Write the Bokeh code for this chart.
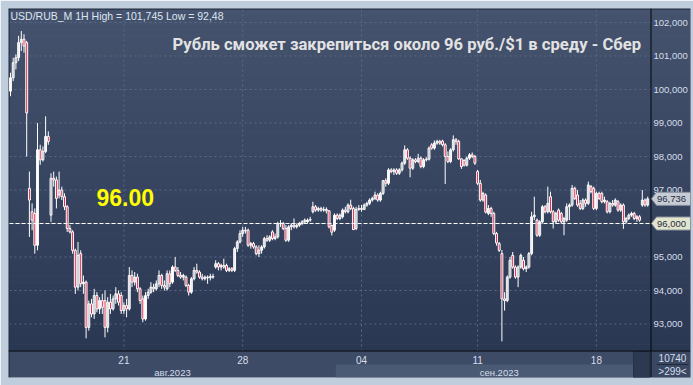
from bokeh.plotting import figure
from bokeh.models import Range1d, Label, ColumnDataSource
from bokeh.core.properties import value
from bokeh.embed import file_html
from bokeh.resources import INLINE

# ---- data: hourly USD/RUB candles ----
opens = [99.95,100.35,100.8,100.95,101.4,101.5,101.4,97.05,96.35,96.3,95.35,98.2,97.9,98.15,98.6,96.25,97.35,97.3,96.85,97.0,
         96.8,96.5,95.85,95.75,95.2,94.1,95.1,94.2,94.25,92.9,93.6,93.3,93.85,93.45,93.7,93.7,92.9,93.65,93.45,93.75,
         93.9,93.85,93.4,93.55,93.45,94.45,94.25,94.4,94.05,93.75,93.15,93.85,93.95,94.1,94.05,94.2,94.45,94.15,94.05,94.5,
         94.25,94.7,94.6,94.45,94.4,94.4,94.15,93.95,94.35,94.6,94.55,94.4,94.35,94.4,94.38,94.42,94.7,94.8,94.7,94.75,
         94.75,94.6,94.65,94.6,95.25,95.45,95.7,95.8,95.8,95.35,95.4,95.3,95.1,95.2,95.3,95.55,95.5,95.75,95.55,95.6,
         96.0,96.0,95.85,95.5,95.9,95.95,95.9,95.95,96.0,96.05,96.05,96.1,96.35,96.5,96.4,96.45,96.4,96.42,96.38,95.94,
         95.8,96.25,96.15,96.2,96.4,96.35,96.55,96.45,95.85,96.42,96.45,96.42,96.55,96.6,96.7,96.75,96.85,96.7,96.9,97.28,
         97.2,97.6,97.55,97.6,97.5,97.6,97.8,98.2,97.95,97.65,97.9,97.85,97.95,97.7,97.9,97.92,98.35,98.25,98.4,98.45,
         98.46,98.35,98.0,97.85,98.2,98.5,98.45,97.93,97.88,97.74,97.95,98.05,98.0,97.55,97.2,96.7,96.85,96.3,96.45,96.3,
         95.7,95.4,95.1,93.75,93.7,94.4,95.05,94.7,94.4,94.7,94.9,94.65,94.7,95.1,96.2,96.1,95.65,96.05,96.5,96.35,
         96.8,96.35,96.05,96.4,96.3,96.05,96.1,96.5,96.55,97.05,96.85,96.6,96.45,96.7,96.6,97.1,97.05,96.45,96.9,96.9,
         96.65,96.65,96.35,96.6,96.55,96.65,96.4,96.55,96.05,96.15,96.25,96.3,96.15,96.2,96.55,96.7,96.55]
highs = [100.5,100.95,101.05,101.6,101.745,101.65,101.45,97.55,96.6,96.45,99.0,98.35,98.3,99.2,98.75,97.5,97.55,97.4,97.55,97.1,
         96.9,96.55,95.95,95.8,95.25,95.45,95.2,94.45,94.3,93.7,93.75,94.05,93.95,93.8,93.9,94.0,93.8,93.9,93.85,94.1,
         94.0,93.95,93.65,93.75,94.7,94.6,94.55,94.5,94.1,93.85,93.95,94.05,94.25,94.2,94.3,94.6,94.5,94.3,94.6,94.6,
         94.75,95.0,94.7,94.55,94.5,94.45,94.2,94.4,94.7,94.8,94.6,94.5,94.45,94.45,94.5,94.5,94.9,94.85,94.8,94.95,
         94.8,94.7,94.7,95.3,95.5,95.8,95.9,95.9,95.85,95.45,95.45,95.35,95.35,95.35,95.6,95.65,95.65,95.8,95.7,96.05,
         96.1,96.05,95.95,95.95,96.0,96.15,96.0,96.05,96.1,96.15,96.15,96.2,96.65,96.55,96.5,96.5,96.5,96.48,96.4,95.97,
         96.3,96.3,96.3,96.45,96.5,96.6,96.71,96.5,96.5,96.55,96.55,96.6,96.65,96.75,96.8,96.95,96.9,96.95,97.3,97.35,
         97.65,97.65,97.65,97.65,97.65,97.85,98.33,98.25,98.0,97.95,97.95,98.08,98.0,97.95,97.98,98.3,98.4,98.48,98.5,98.5,
         98.5,98.4,98.15,98.25,98.63,98.55,98.5,97.95,97.92,98.0,98.1,98.12,98.05,97.6,97.3,96.95,96.9,96.55,96.5,96.35,
         95.75,95.45,95.21,93.95,94.45,95.0,95.15,94.75,94.75,95.1,95.0,94.75,95.15,96.35,96.8,96.15,96.1,96.55,96.55,97.1,
         96.95,96.4,96.35,96.45,96.35,96.2,96.6,96.6,97.15,97.1,97.0,96.7,96.75,96.75,97.25,97.15,97.1,96.95,96.95,96.95,
         96.8,96.7,96.65,96.7,96.75,96.7,96.6,96.6,96.2,96.3,96.35,96.35,96.25,96.25,97.0,96.75,96.8]
lows = [99.8,100.25,100.6,100.85,101.15,101.1,98.0,95.6,95.8,95.1,95.2,97.75,97.85,98.1,98.35,96.05,97.1,96.45,96.75,96.7,
        96.4,95.75,95.7,95.1,93.9,94.0,94.1,93.9,92.57,92.8,93.2,93.15,93.35,93.3,93.3,92.6,92.75,93.3,93.4,93.6,
        93.55,93.3,93.3,93.2,93.4,94.1,94.15,93.95,93.6,93.05,93.1,93.75,93.9,93.95,94.0,94.1,94.05,94.0,94.0,94.1,
        94.2,94.55,94.4,94.35,94.3,94.1,93.85,93.9,94.3,94.5,94.35,94.3,94.3,94.2,94.3,94.35,94.65,94.6,94.6,94.65,
        94.55,94.55,94.55,94.55,95.15,95.4,95.6,95.7,95.3,95.25,95.25,95.05,95.0,95.1,95.25,95.45,95.45,95.5,95.5,95.55,
        95.9,95.8,95.45,95.45,95.8,95.85,95.85,95.9,95.95,96.0,96.0,96.05,96.3,96.35,96.35,96.35,96.35,96.3,95.85,95.64,
        95.75,96.1,96.1,96.15,96.3,96.3,96.4,95.8,95.8,96.38,96.35,96.4,96.5,96.55,96.65,96.7,96.65,96.65,96.85,97.1,
        97.15,97.5,97.45,97.45,97.45,97.55,97.75,97.9,97.38,97.6,97.8,97.8,97.65,97.65,97.85,97.88,98.2,98.2,98.35,98.35,
        98.3,97.18,97.8,97.8,98.15,98.35,97.9,97.63,97.7,97.7,97.9,97.95,97.75,97.15,96.65,96.65,96.3,96.25,96.2,95.65,
        95.34,95.15,92.48,93.4,93.65,94.35,94.65,94.35,94.1,94.65,94.6,94.55,94.65,95.05,96.1,95.6,95.6,96.0,96.3,96.3,
        96.3,95.85,96.0,96.05,96.0,95.65,96.05,96.1,96.5,96.7,96.5,96.4,96.4,96.5,96.55,96.9,96.4,96.4,96.7,96.6,
        96.6,96.3,96.3,96.5,96.5,96.35,96.35,95.84,96.0,96.1,96.2,96.1,96.05,96.05,96.5,96.5,96.5]
closes = [100.35,100.8,100.95,101.4,101.5,101.3,99.3,96.7,96.1,95.35,98.2,97.9,98.15,98.6,98.45,97.35,97.3,96.75,97.0,96.8,
          96.5,95.85,95.75,95.2,94.1,95.05,94.2,94.25,92.9,93.6,93.3,93.85,93.45,93.7,93.5,92.9,93.65,93.45,93.75,93.9,
          93.65,93.4,93.55,93.45,94.45,94.25,94.4,94.05,93.7,93.15,93.85,93.95,94.1,94.05,94.2,94.45,94.15,94.1,94.5,94.2,
          94.7,94.6,94.45,94.4,94.45,94.15,93.95,94.35,94.6,94.55,94.4,94.35,94.4,94.38,94.42,94.4,94.8,94.7,94.75,94.7,
          94.6,94.65,94.6,95.25,95.45,95.7,95.8,95.78,95.35,95.4,95.3,95.1,95.2,95.3,95.55,95.5,95.6,95.55,95.6,96.0,
          96.0,95.85,95.5,95.9,95.95,95.9,95.95,96.0,96.05,96.1,96.1,96.12,96.5,96.4,96.45,96.4,96.42,96.38,95.9,95.74,
          96.25,96.15,96.25,96.4,96.35,96.55,96.45,95.82,96.42,96.45,96.42,96.55,96.6,96.7,96.75,96.85,96.7,96.9,97.28,97.2,
          97.6,97.55,97.6,97.5,97.6,97.8,98.2,97.95,97.65,97.9,97.85,97.95,97.7,97.9,97.92,98.25,98.25,98.4,98.45,98.4,
          98.35,98.0,97.85,98.2,98.5,98.45,97.93,97.7,97.74,97.95,98.05,98.0,97.8,97.2,96.7,96.9,96.34,96.45,96.3,95.7,
          95.42,95.2,93.75,93.7,94.4,94.9,94.7,94.4,94.7,95.05,94.65,94.7,95.1,96.2,96.25,95.65,96.05,96.5,96.35,96.6,
          96.35,96.05,96.3,96.1,96.05,96.15,96.5,96.55,97.05,96.75,96.55,96.45,96.7,96.6,97.15,96.95,96.45,96.9,96.75,96.65,
          96.7,96.35,96.6,96.55,96.7,96.4,96.55,96.05,96.15,96.25,96.3,96.15,96.2,96.1,96.7,96.55,96.736]

day_ticks = [42, 86, 130, 173, 217]
day_labels = ["21", "28", "04", "11", "18"]
month_ticks = [60, 181]
month_labels = ["авг.2023", "сен.2023"]
sep_first = 121
price_ticks = [93, 94, 95, 96, 97, 98, 99, 100, 101, 102]
price_labels = ["93,000", "94,000", "95,000", "96,000", "97,000", "98,000", "99,000", "100,000", "101,000", "102,000"]
level = 96.0
level_label = "96,000"
level_big = "96.00"
last_label = "96,736"
title_text = "USD/RUB_M 1H High = 101,745 Low = 92,48"
headline = "Рубль сможет закрепиться около 96 руб./$1 в среду - Сбер"
volume_text = "10740"
count_text = ">299<"

N = len(closes)
assert len(opens) == len(highs) == len(lows) == N

FONT = "Liberation Sans"
TXT = "#d6deea"

# layout calibration: page pixel -> data coordinate (candle pitch 2.7px, 33.5px per rouble)
def xpx(px):
    return (px - 10) / 2.7

def ypx(py):
    return 102 - (py - 22) / 33.5

p = figure(width=693, height=385, x_range=Range1d(xpx(8), xpx(690)), y_range=Range1d(ypx(377), ypx(8)),
           output_backend="svg", toolbar_location=None, x_axis_type=None, y_axis_type=None,
           min_border_left=8, min_border_right=3, min_border_top=8, min_border_bottom=8,
           background_fill_color="#3d4b66", border_fill_color="#bfcddc", outline_line_color=None)
p.grid.visible = False

# background gradient of plot + price-scale area (decoration)
nb = 60
yb, yt = ypx(350), ypx(9)
top_c, bot_c = (69, 83, 110), (42, 55, 82)
bb, bt, bc = [], [], []
for k in range(nb):
    f = (k + 0.5) / nb
    bb.append(yb + (yt - yb) * k / nb)
    bt.append(yb + (yt - yb) * (k + 1) / nb + 0.005)
    c = tuple(int(round(bot_c[j] + (top_c[j] - bot_c[j]) * f)) for j in range(3))
    bc.append("#%02x%02x%02x" % c)
p.quad(left=xpx(9), right=xpx(690), bottom=bb, top=bt, fill_color=bc, line_color=None)

# bottom scale decorations
p.quad(left=[sep_first - 0.5], right=[xpx(633)], bottom=[ypx(377)], top=[ypx(364)],
       fill_color="#4a5a75", line_color=None)
p.quad(left=[xpx(633)], right=[xpx(649)], bottom=[ypx(377)], top=[ypx(351)],
       fill_color="#2c3951", line_color="#26324a", line_width=1)
p.quad(left=[xpx(651)], right=[xpx(690)], bottom=[ypx(377)], top=[ypx(351)],
       fill_color="#3a4863", line_color=None)
p.segment(x0=[xpx(656)], y0=[ypx(364)], x1=[xpx(688)], y1=[ypx(364)], line_color="#1f293b", line_width=1)

# grid
p.segment(x0=[xpx(9)] * len(price_ticks), y0=price_ticks, x1=[xpx(650)] * len(price_ticks), y1=price_ticks,
          line_color="#5a6986", line_dash="2 3", line_width=1)
p.segment(x0=day_ticks, y0=[ypx(9)] * len(day_ticks), x1=day_ticks, y1=[ypx(350)] * len(day_ticks),
          line_color="#5a6986", line_dash="2 3", line_width=1)

# frame lines
p.segment(x0=[xpx(8), xpx(8.5), xpx(650.5), xpx(8)], y0=[ypx(8.5), ypx(8), ypx(8), ypx(350.5)],
          x1=[xpx(690), xpx(8.5), xpx(650.5), xpx(690)], y1=[ypx(8.5), ypx(377), ypx(377), ypx(350.5)],
          line_color=["#1d2738", "#1d2738", "#05070b", "#05070b"], line_width=1)

# candles
xs = list(range(N))
up = [c >= o for o, c in zip(opens, closes)]
src = ColumnDataSource(dict(
    x=xs, top=[max(o, c) for o, c in zip(opens, closes)],
    bottom=[min(o, c) for o, c in zip(opens, closes)],
    hi=highs, lo=lows,
    fill=["#36445f" if u else "#e3163c" for u in up],
    alpha=[0.0 if u else 1.0 for u in up]))
p.segment(x0="x", y0="lo", x1="x", y1="hi", source=src, line_color="white", line_width=1)
p.vbar(x="x", width=0.7, top="top", bottom="bottom", source=src, fill_color="fill",
       fill_alpha="alpha", line_color="white", line_width=1)

# level line at 96
p.segment(x0=[xpx(9)], y0=[level], x1=[xpx(650)], y1=[level], line_color="white", line_dash="4 2", line_width=1)

# price scale labels
p.text(x=[xpx(653)] * len(price_ticks), y=price_ticks, text=price_labels, text_font=value(FONT),
       text_font_size="9.5px", text_color=TXT, text_baseline="middle", text_align="left")
# time scale labels
p.text(x=day_ticks, y=[ypx(359)] * len(day_ticks), text=day_labels, text_font=value(FONT),
       text_font_size="10px", text_color=TXT, text_baseline="middle", text_align="center")
p.text(x=month_ticks, y=[ypx(371.5)] * len(month_ticks), text=month_labels, text_font=value(FONT),
       text_font_size="9.5px", text_color=TXT, text_baseline="middle", text_align="center")

# price tags (last price and level)
h = 6.5 / 33.5
tag_vals = [closes[-1], level]
tag_txt = [last_label, level_label]
tag_col = ["#c6cbd4", "#e2e5cb"]
p.patches(xs=[[xpx(651), xpx(656), xpx(690), xpx(690), xpx(656)] for _ in tag_vals],
          ys=[[v, v + h, v + h, v - h, v - h] for v in tag_vals],
          fill_color=tag_col, line_color="#8a93a3", line_width=1)
p.text(x=[xpx(656.5)] * 2, y=tag_vals, text=tag_txt, text_font=value(FONT), text_font_size="9.5px",
       text_color="#1e2a44", text_baseline="middle", text_align="left")

# lower-right counters (drawn in data space of the bottom scale)
p.text(x=[xpx(672), xpx(672)], y=[ypx(357), ypx(371)], text=[volume_text, count_text], text_font=value(FONT),
       text_font_size="10px", text_color=TXT, text_baseline="middle", text_align="center")

# texts (screen coords relative to frame bottom-left: page x-8, 377-page y)
p.add_layout(Label(x=2, y=362, x_units="screen", y_units="screen", text=title_text,
                   text_font=FONT, text_font_size="10.5px", text_color="#dfe6f0", text_baseline="middle"))
p.add_layout(Label(x=164, y=333, x_units="screen", y_units="screen", text=headline,
                   text_font="Roboto", text_font_size="16.6px", text_font_style="bold",
                   text_color="#e2e2e2", text_baseline="middle"))
p.add_layout(Label(x=88, y=180, x_units="screen", y_units="screen", text=level_big,
                   text_font=FONT, text_font_size="23px", text_font_style="bold",
                   text_color="#ffff00", text_baseline="middle"))

open("out.html", "w").write(file_html(p, INLINE))
